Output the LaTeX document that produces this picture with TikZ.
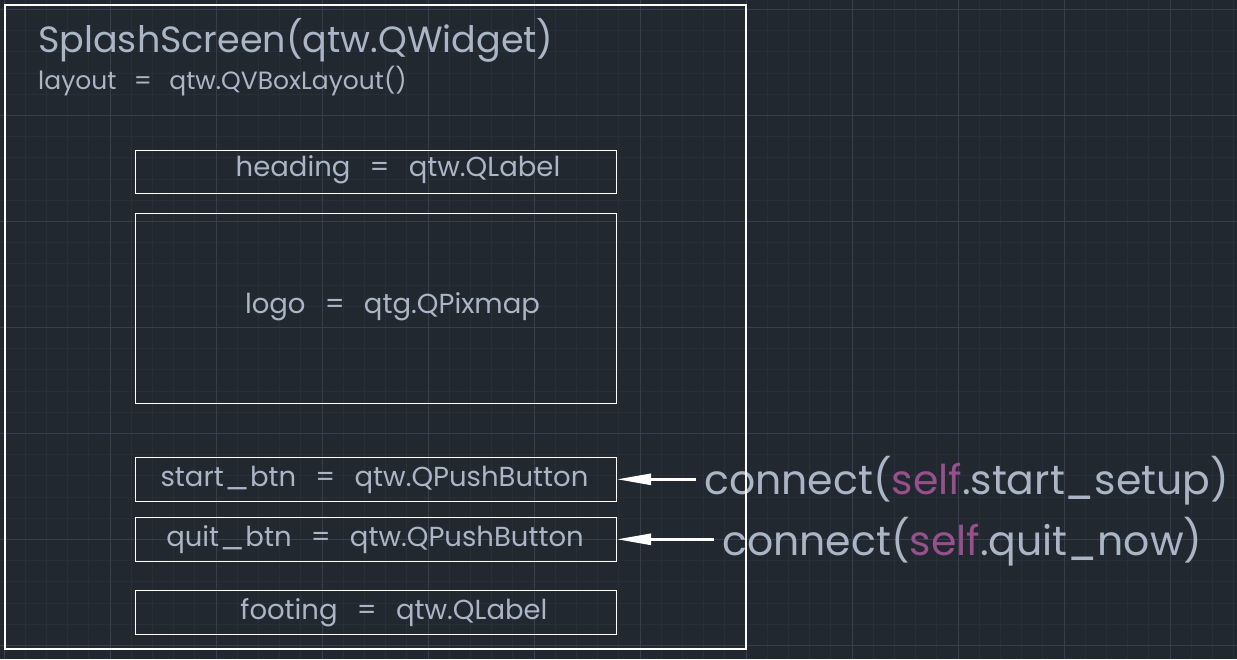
\documentclass[tikz,border=0pt]{standalone}
\usepackage{fontspec}
\usepackage{graphicx}
\setmainfont{Poppins}
\usetikzlibrary{arrows.meta}

\definecolor{cadbg}{RGB}{33,40,48}
\definecolor{cadminor}{RGB}{40,47,57}
\definecolor{cadmajor}{RGB}{56,62,78}
\definecolor{cadtext}{RGB}{170,181,197}
\definecolor{cadself}{RGB}{152,80,141}

\newcommand{\slf}{\textcolor{cadself}{self}}
\newcommand{\usc}{\scalebox{1.3}[1]{\_}}
\newcommand{\cadfont}[1]{\fontsize{#1}{#1}\selectfont\spaceskip=0.7em\relax}

\begin{document}
\begin{tikzpicture}[x=1pt,y=-1pt,
        widget/.style={draw=white, line width=1pt, minimum width=481pt, inner sep=0pt},
        caption/.style={inner sep=0pt, text=cadtext, anchor=base west},
        wtext/.style={inner sep=0pt, text=cadtext, anchor=base, font=\cadfont{27.5}},
        signal/.style={draw=white, line width=2.6pt, -{Triangle[length=34pt,width=11pt]}}]
        \fill[cadbg] (0,0) rectangle (1237,659);
        \useasboundingbox (0,0) rectangle (1237,659);

        % grid
        \foreach \k in {0,...,58}
            \draw[cadminor, line width=0.8pt] ({4+21.2*\k},0) -- ({4+21.2*\k},659);
        \foreach \k in {0,...,30}
            \draw[cadminor, line width=0.8pt] (0,{9.3+21.2*\k}) -- (1237,{9.3+21.2*\k});
        \foreach \k in {0,...,11}
            \draw[cadmajor, line width=1pt] ({4+106*\k},0) -- ({4+106*\k},659);
        \foreach \k in {0,...,6}
            \draw[cadmajor, line width=1pt] (0,{9.3+106*\k}) -- (1237,{9.3+106*\k});

        \node[caption, font=\cadfont{36.5}] (title) at (38,52.3) {SplashScreen(qtw.QWidget)};
        \node[caption, font=\cadfont{25}] (layout) at (38,89.3) {layout = qtw.QVBoxLayout()};

        % widgets of the layout
        \node[widget, minimum height=43.3pt] (heading) at (376,171.7) {};
        \node[widget, minimum height=190pt] (logo) at (376,308.3) {};
        \node[widget, minimum height=44pt] (startbtn) at (376,479.3) {};
        \node[widget, minimum height=44pt] (quitbtn) at (376,539.3) {};
        \node[widget, minimum height=43.7pt] (footing) at (376,612.2) {};

        \node[wtext] (headingtext) at (398,176.7) {heading = qtw.QLabel};
        \node[wtext] (logotext) at (392.5,313.3) {logo = qtg.QPixmap};
        \node[wtext] (starttext) at (374.5,486.7) {start\usc btn = qtw.QPushButton};
        \node[wtext] (quittext) at (375,546.7) {quit\usc btn = qtw.QPushButton};
        \node[wtext] (footingtext) at (394,619) {footing = qtw.QLabel};

        \node[caption, font=\cadfont{41}] (startsig) at (704,494.5) {connect(\slf.start\_setup)};
        \node[caption, font=\cadfont{41}] (quitsig) at (722,555) {connect(\slf.quit\_now)};

        \draw[signal] ([xshift=-8pt]startsig.west |- startbtn.east) -- (startbtn.east);
        \draw[signal] ([xshift=-8pt]quitsig.west |- quitbtn.east) -- (quitbtn.east);

        % outer window
        \draw[white, line width=2.7pt] (5,5) rectangle (746,649);
\end{tikzpicture}
\end{document}
